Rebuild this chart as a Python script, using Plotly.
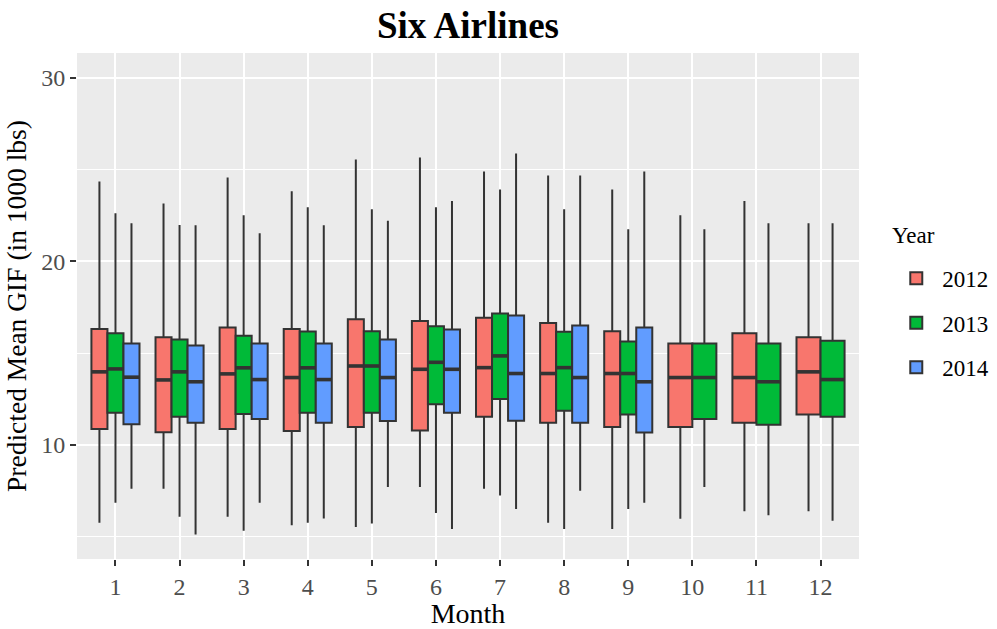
import plotly.graph_objects as go

months = [1, 2, 3, 4, 5, 6, 7, 8, 9, 10, 11, 12]
years = ["2012", "2013", "2014"]
colors = ["#F8766D", "#00BA38", "#619CFF"]

upper_2012 = [24.36, 23.16, 24.58, 23.82, 25.55, 25.66, 24.90, 24.68, 23.92, 22.51, 23.29, 22.08]
q3_2012 = [16.31, 15.86, 16.40, 16.31, 16.85, 16.75, 16.93, 16.64, 16.20, 15.53, 16.09, 15.86]
med_2012 = [13.98, 13.54, 13.87, 13.67, 14.30, 14.12, 14.21, 13.89, 13.89, 13.67, 13.67, 13.98]
q1_2012 = [10.87, 10.69, 10.87, 10.76, 10.98, 10.78, 11.54, 11.21, 10.98, 10.98, 11.21, 11.65]
lower_2012 = [5.75, 7.61, 6.08, 5.62, 5.53, 7.70, 7.61, 5.75, 5.42, 5.97, 6.38, 6.38]

upper_2013 = [22.62, 21.99, 22.51, 22.95, 22.84, 22.95, 23.92, 22.84, 21.75, 21.75, 22.08, 22.08]
q3_2013 = [16.08, 15.75, 15.95, 16.18, 16.20, 16.47, 17.16, 16.17, 15.64, 15.53, 15.53, 15.68]
med_2013 = [14.14, 13.98, 14.20, 14.20, 14.30, 14.50, 14.85, 14.21, 13.89, 13.67, 13.44, 13.56]
q1_2013 = [11.75, 11.54, 11.68, 11.75, 11.75, 12.21, 12.50, 11.86, 11.66, 11.41, 11.10, 11.54]
lower_2013 = [6.84, 6.08, 5.32, 5.75, 5.71, 6.29, 7.24, 5.42, 6.51, 7.70, 6.17, 5.86]

upper_2014 = [22.08, 21.97, 21.54, 21.97, 22.21, 23.29, 25.88, 24.68, 24.90, None, None, None]
q3_2014 = [15.53, 15.42, 15.53, 15.53, 15.75, 16.29, 17.05, 16.51, 16.40, None, None, None]
med_2014 = [13.69, 13.44, 13.56, 13.56, 13.67, 14.12, 13.89, 13.67, 13.44, None, None, None]
q1_2014 = [11.12, 11.21, 11.41, 11.21, 11.30, 11.75, 11.32, 11.21, 10.67, None, None, None]
lower_2014 = [7.61, 5.12, 6.84, 5.99, 7.70, 5.42, 6.51, 7.50, 6.84, None, None, None]

stats = {
    "2012": (upper_2012, q3_2012, med_2012, q1_2012, lower_2012),
    "2013": (upper_2013, q3_2013, med_2013, q1_2013, lower_2013),
    "2014": (upper_2014, q3_2014, med_2014, q1_2014, lower_2014),
}

DODGE = 0.75
SERIF = "Liberation Serif"
LINE = "#333333"

# dodge positions (like ggplot position_dodge)
entries = {y: {} for y in years}  # year -> width -> list of (pos, idx)
for i, m in enumerate(months):
    present = [y for y in years if stats[y][2][i] is not None]
    n = len(present)
    bw = DODGE / n
    for k, y in enumerate(present):
        pos = m - DODGE / 2 + bw * (k + 0.5)
        entries[y].setdefault(bw, []).append((pos, i))

fig = go.Figure()
for y, c in zip(years, colors):
    up, q3, md, q1, lo = stats[y]
    first = True
    for bw, lst in entries[y].items():
        xs = [p for p, _ in lst]
        idx = [i for _, i in lst]
        fig.add_trace(go.Box(
            x=xs,
            q1=[q1[i] for i in idx], median=[md[i] for i in idx], q3=[q3[i] for i in idx],
            lowerfence=[lo[i] for i in idx], upperfence=[up[i] for i in idx],
            width=bw, fillcolor=c, line=dict(color=LINE, width=2),
            whiskerwidth=0, boxpoints=False, name=y, legendgroup=y,
            showlegend=first,
        ))
        first = False
        # thicker median line (ggplot fatten)
        mx, my = [], []
        for p, i in lst:
            mx += [p - bw / 2, p + bw / 2, None]
            my += [md[i], md[i], None]
        fig.add_trace(go.Scatter(x=mx, y=my, mode="lines", line=dict(color=LINE, width=3.6),
                                 showlegend=False, legendgroup=y, hoverinfo="skip"))

fig.update_layout(
    width=997, height=629,
    margin=dict(l=77, r=138, t=53, b=70, autoexpand=False),
    paper_bgcolor="white", plot_bgcolor="#EBEBEB",
    boxmode="overlay",
    title=dict(text="<b>Six Airlines</b>", x=0.5, xref="paper", xanchor="center",
               y=1 - 25 / 629, yref="container", yanchor="middle",
               font=dict(family=SERIF, size=37, color="black")),
    legend=dict(font=dict(family=SERIF, size=23, color="black"),
                x=1.04, xanchor="left", y=0.597, yanchor="top",
                tracegroupgap=11.5, itemwidth=42, bgcolor="white"),
    annotations=[dict(text="Year", xref="paper", yref="paper", x=1.04, xanchor="left",
                      y=(559 - 235) / 506, yanchor="middle", showarrow=False,
                      font=dict(family=SERIF, size=23, color="black"))],
    font=dict(family=SERIF),
)
fig.update_xaxes(
    range=[0.4, 12.6], tickvals=months, ticktext=[str(m) for m in months],
    showgrid=True, gridcolor="white", gridwidth=2, zeroline=False,
    ticks="outside", ticklen=6, tickwidth=2, tickcolor=LINE,
    tickfont=dict(family=SERIF, size=24, color="#4D4D4D"),
    title=dict(text="Month", font=dict(family=SERIF, size=28, color="black"), standoff=3),
)
fig.update_yaxes(
    range=[3.78, 31.36], tickvals=[10, 20, 30],
    showgrid=True, gridcolor="white", gridwidth=2, zeroline=False,
    ticks="outside", ticklen=6, tickwidth=2, tickcolor=LINE,
    tickfont=dict(family=SERIF, size=24, color="#4D4D4D"),
    minor=dict(tickvals=[5, 15, 25], showgrid=True, gridcolor="white", gridwidth=1, ticks=""),
    title=dict(text="Predicted Mean GIF (in 1000 lbs)", font=dict(family=SERIF, size=27.5, color="black"), standoff=6),
)

fig.write_html("out.html")
